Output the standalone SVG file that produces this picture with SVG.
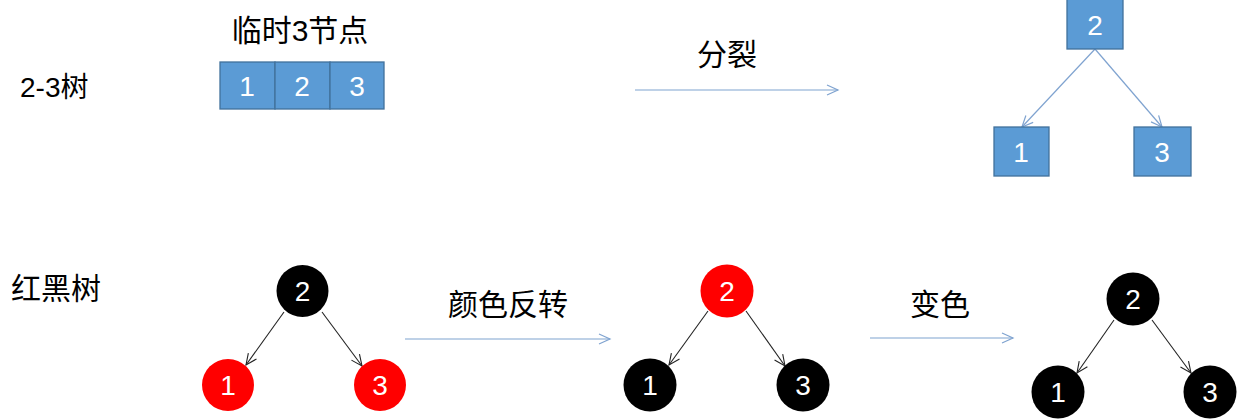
<svg xmlns="http://www.w3.org/2000/svg" width="1238" height="420" viewBox="0 0 1238 420">
<style>
.lbl{font-family:"Liberation Sans","Noto Sans CJK SC",sans-serif;font-size:28px;fill:#000}
.big{font-size:30px}
.num{font-family:"Liberation Sans",Arial,sans-serif;font-size:28px;fill:#fff;text-anchor:middle}
.box{fill:#5b9bd5;stroke:#41719c;stroke-width:1.3}
.blk{fill:#000}
.red{fill:#ff0000}
.ba{stroke:#7fa3d0;stroke-width:1.2;fill:none}
.ka{stroke:#222;stroke-width:1.1;fill:none}
</style>
<defs>
<marker id="mb" markerWidth="14" markerHeight="12" refX="12" refY="6" orient="auto" markerUnits="userSpaceOnUse">
<path d="M1,1 L12,6 L1,11" fill="none" stroke="#7fa3d0" stroke-width="1.2"/>
</marker>
<marker id="mk" markerWidth="14" markerHeight="12" refX="12" refY="6" orient="auto" markerUnits="userSpaceOnUse">
<path d="M1,1 L12,6 L1,11" fill="none" stroke="#222" stroke-width="1.1"/>
</marker>
</defs>
<rect width="1238" height="420" fill="#fff"/>

<g id="labels">
<text class="lbl" x="20" y="97">2-3树</text>
<text class="lbl big" x="11" y="299">红黑树</text>
<text class="lbl big" x="300" y="41" text-anchor="middle">临时3节点</text>
<text class="lbl big" x="727" y="65" text-anchor="middle">分裂</text>
<text class="lbl big" x="508" y="315" text-anchor="middle">颜色反转</text>
<text class="lbl big" x="940" y="315" text-anchor="middle">变色</text>
</g>

<g id="connectors">
<line class="ba" x1="635" y1="90" x2="838" y2="90" marker-end="url(#mb)"/>
<line class="ba" x1="1095" y1="49" x2="1022" y2="127" marker-end="url(#mb)"/>
<line class="ba" x1="1095" y1="49" x2="1162" y2="127" marker-end="url(#mb)"/>
<line class="ba" x1="405" y1="339" x2="610" y2="339" marker-end="url(#mb)"/>
<line class="ba" x1="870" y1="338" x2="1013" y2="338" marker-end="url(#mb)"/>
<line class="ka" x1="284" y1="312" x2="246" y2="365" marker-end="url(#mk)"/>
<line class="ka" x1="322" y1="312" x2="362" y2="366" marker-end="url(#mk)"/>
<line class="ka" x1="708" y1="311" x2="669" y2="365" marker-end="url(#mk)"/>
<line class="ka" x1="746" y1="311" x2="785" y2="366" marker-end="url(#mk)"/>
<line class="ka" x1="1114" y1="320" x2="1077" y2="373" marker-end="url(#mk)"/>
<line class="ka" x1="1152" y1="320" x2="1191" y2="373" marker-end="url(#mk)"/>
</g>

<g id="temp3node">
<rect class="box" x="220" y="62" width="55" height="47"/>
<rect class="box" x="275" y="62" width="55" height="47"/>
<rect class="box" x="330" y="62" width="54" height="47"/>
<text class="num" x="247" y="96">1</text>
<text class="num" x="302" y="96">2</text>
<text class="num" x="357" y="96">3</text>
</g>

<g id="split-2"><rect class="box" x="1067" y="-1" width="56" height="50"/><text class="num" x="1095" y="35">2</text></g>
<g id="split-1"><rect class="box" x="994" y="127" width="55" height="49"/><text class="num" x="1021" y="162">1</text></g>
<g id="split-3"><rect class="box" x="1134" y="127" width="57" height="49"/><text class="num" x="1162" y="162">3</text></g>

<g id="rb1-2"><circle class="blk" cx="302.5" cy="291" r="26"/><text class="num" x="302.5" y="301">2</text></g>
<g id="rb1-1"><circle class="red" cx="228" cy="385" r="26"/><text class="num" x="228" y="395">1</text></g>
<g id="rb1-3"><circle class="red" cx="380" cy="385" r="26"/><text class="num" x="380" y="395">3</text></g>

<g id="rb2-2"><circle class="red" cx="727" cy="291" r="26.5"/><text class="num" x="727" y="301">2</text></g>
<g id="rb2-1"><circle class="blk" cx="650" cy="385" r="26.5"/><text class="num" x="650" y="395">1</text></g>
<g id="rb2-3"><circle class="blk" cx="803" cy="385" r="26.5"/><text class="num" x="803" y="395">3</text></g>

<g id="rb3-2"><circle class="blk" cx="1133" cy="299" r="26.5"/><text class="num" x="1133" y="309">2</text></g>
<g id="rb3-1"><circle class="blk" cx="1058" cy="392" r="26.5"/><text class="num" x="1058" y="402">1</text></g>
<g id="rb3-3"><circle class="blk" cx="1210" cy="392" r="26.5"/><text class="num" x="1210" y="402">3</text></g>
</svg>
